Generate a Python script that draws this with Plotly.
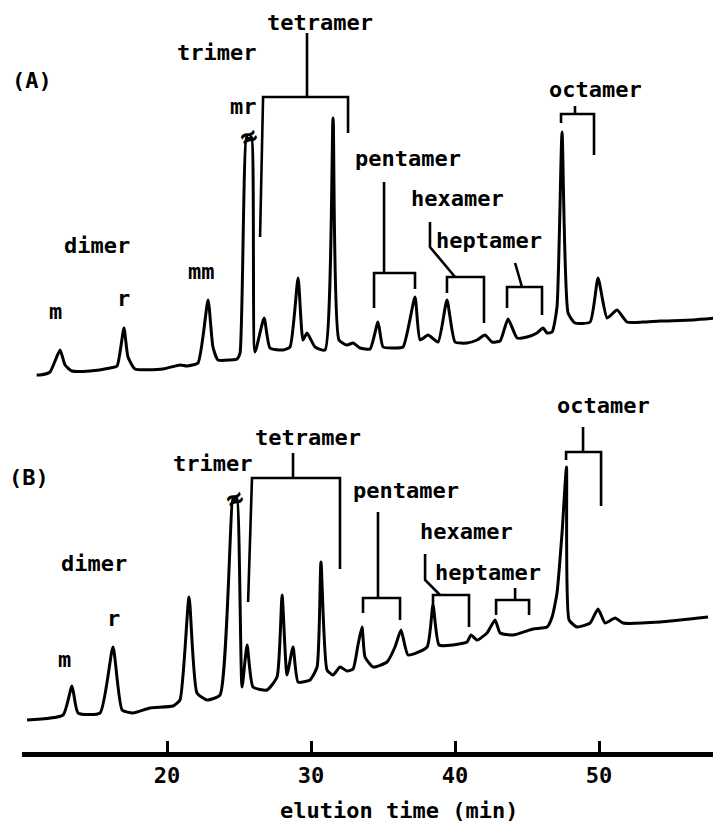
import plotly.graph_objects as go

# ---- data: elution time (min) and detector response (arbitrary units) ----
tA = [10.95, 11.18, 11.875, 12.57, 12.92, 13.40, 14.65, 16.04, 16.53, 17.01, 17.29, 17.78, 19.72,
      20.90, 21.39, 22.15, 22.85, 23.19, 23.54, 24.375, 24.86, 25.07, 25.52, 25.69, 25.87, 26.11,
      26.74, 27.15, 28.06, 28.54, 29.10, 29.44, 29.72, 30.28, 30.97, 31.53, 31.94, 32.50, 32.92,
      33.40, 34.10, 34.65, 35.00, 35.69, 36.39, 37.22, 37.57, 38.13, 38.82, 39.44, 40.00, 40.83,
      41.53, 42.08, 42.57, 43.13, 43.68, 44.31, 45.00, 45.69, 46.11, 46.39, 46.74, 47.08, 47.43,
      47.85, 48.33, 49.38, 49.93, 50.56, 51.25, 51.94, 53.06, 54.24, 56.53, 58.20]
sA = [0, 0, 3, 25, 10, 4, 4, 7, 9, 47, 18, 6, 6,
      10, 9, 12, 75, 28, 15, 15, 16, 22, 238, 236, 238, 23,
      57, 27, 25, 28, 97, 35, 42, 28, 25, 257, 35, 30, 32,
      27, 26, 53, 28, 27, 28, 78, 35, 40, 33, 75, 33, 32,
      35, 40, 33, 34, 56, 37, 38, 42, 47, 42, 43, 68, 243,
      62, 52, 53, 97, 57, 65, 53, 53, 54, 55, 57]

tB = [10.28, 12.78, 13.40, 13.82, 15.35, 16.25, 16.88, 17.64, 18.82, 20.42, 20.90, 21.53, 22.08,
      22.78, 23.68, 24.58, 24.72, 24.86, 25.21, 25.56, 25.97, 26.94, 27.64, 27.99, 28.33, 28.75,
      29.10, 29.93, 30.42, 30.69, 31.11, 31.53, 32.01, 32.50, 32.92, 33.26, 33.54, 33.75, 34.31,
      35.28, 35.83, 36.25, 36.74, 38.06, 38.47, 38.89, 39.86, 40.83, 41.11, 41.53, 42.22, 42.78,
      43.13, 44.03, 45.42, 46.39, 46.74, 47.08, 47.43, 47.74, 47.92, 48.47, 49.38, 49.93, 50.42,
      51.11, 51.67, 54.24, 57.57]
sB = [0, 5, 34, 7, 7, 73, 10, 7, 12, 14, 20, 123, 27,
      20, 25, 222, 220, 222, 33, 75, 33, 30, 43, 125, 45, 73,
      38, 40, 53, 158, 50, 45, 53, 49, 51, 75, 93, 63, 53,
      58, 73, 90, 65, 73, 115, 75, 75, 78, 85, 80, 87, 100,
      87, 85, 91, 93, 103, 127, 187, 253, 100, 93, 97, 111, 97,
      102, 97, 98, 103]

xticks = [20, 30, 40, 50]
x_title = "elution time (min)"

# ---- layout helpers ----
offA, offB = 377, 32
FONT = "DejaVu Sans Mono"
LW = 2.6

fig = go.Figure()
for t, s, off in [(tA, sA, offA), (tB, sB, offB)]:
    fig.add_trace(go.Scatter(x=t, y=[off + v for v in s], mode="lines",
                             line=dict(color="black", width=3, shape="spline", smoothing=0.5),
                             hoverinfo="skip", showlegend=False))

shapes = []


def seg(pts):
    d = "M " + " L ".join(f"{x},{y}" for x, y in pts)
    shapes.append(dict(type="path", path=d, xref="x", yref="y",
                       line=dict(color="black", width=LW)))


def bracket(xl, xr, ybar, yl, yr, stem, xl_end=None):
    seg([(xl if xl_end is None else xl_end, yl), (xl, ybar), (xr, ybar), (xr, yr)])
    seg(stem)


# (A) brackets
bracket(26.67, 32.57, 655, 515, 619, [(29.72, 655), (29.72, 719)], xl_end=26.46)
bracket(34.375, 37.22, 479, 444, 463, [(35.07, 479), (35.07, 570)])
bracket(39.44, 42.01, 475, 459, 429, [(40.0, 475), (38.26, 505), (38.26, 530)])
bracket(43.61, 46.04, 465, 444, 437, [(44.65, 465), (44.17, 489)])
bracket(47.36, 49.65, 638, 629, 597, [(48.33, 638), (48.33, 646)])

# (B) brackets
bracket(25.90, 32.01, 274, 150, 183, [(28.75, 274), (28.75, 299)], xl_end=25.63)
bracket(33.61, 36.18, 154, 139, 132, [(34.65, 154), (34.65, 240)])
bracket(38.47, 40.97, 157, 144, 125, [(38.96, 157), (37.92, 172), (37.92, 198)])
bracket(42.85, 45.14, 152, 137, 137, [(44.17, 152), (44.17, 164)])
bracket(47.71, 50.14, 300, 292, 246, [(48.89, 300), (48.89, 325)])

ann = []


def label(text, x, y, xanchor="center", xref="x"):
    ann.append(dict(text=text, x=x, y=y, xref=xref, yref="y", showarrow=False,
                    xanchor=xanchor, yanchor="middle",
                    font=dict(family=FONT, size=22, color="black", weight="bold")))


label("(A)", (10 - 22) / 696, 672, xanchor="left", xref="paper")
label("trimer", 23.47, 700)
label("tetramer", 30.625, 730)
label("mr", 25.28, 646)
label("dimer", 15.14, 507)
label("mm", 22.36, 481)
label("m", 12.29, 441)
label("r", 17.01, 454)
label("pentamer", 36.74, 594)
label("hexamer", 40.14, 554)
label("heptamer", 42.36, 512)
label("octamer", 49.72, 663)

label("(B)", (7 - 22) / 696, 275, xanchor="left", xref="paper")
label("trimer", 23.125, 289)
label("tetramer", 29.79, 315)
label("dimer", 14.93, 189)
label("m", 12.85, 93)
label("r", 16.25, 134)
label("pentamer", 36.6, 262)
label("hexamer", 40.83, 221)
label("heptamer", 42.29, 180)
label("octamer", 50.28, 347)

# break marks on off-scale peaks
for bx, by in [(25.69, 616), (24.72, 254)]:
    ann.append(dict(text="≈", x=bx, y=by, xref="x", yref="y", showarrow=False,
                    textangle=-25, font=dict(family=FONT, size=28, color="black", weight="bold")))

# axis title
ann.append(dict(text=x_title, x=36.11, y=-58 / 744, xref="x", yref="paper", showarrow=False,
                xanchor="center", yanchor="middle",
                font=dict(family=FONT, size=22, color="black", weight="bold")))

fig.update_layout(
    width=721, height=825,
    margin=dict(l=14, r=11, t=0, b=81, pad=0),
    paper_bgcolor="white", plot_bgcolor="white",
    font=dict(family=FONT, size=22, color="black", weight="bold"),
    shapes=shapes, annotations=ann,
    xaxis=dict(range=[9.93, 58.26], tickvals=xticks, ticktext=[str(v) for v in xticks],
               ticks="inside", ticklen=11, tickwidth=2.5, tickcolor="black",
               showline=True, linewidth=5, linecolor="black",
               showgrid=False, zeroline=False,
               tickfont=dict(family=FONT, size=22, color="black", weight="bold")),
    yaxis=dict(range=[0, 744], visible=False, showgrid=False, zeroline=False),
)

fig.write_html("out.html")
